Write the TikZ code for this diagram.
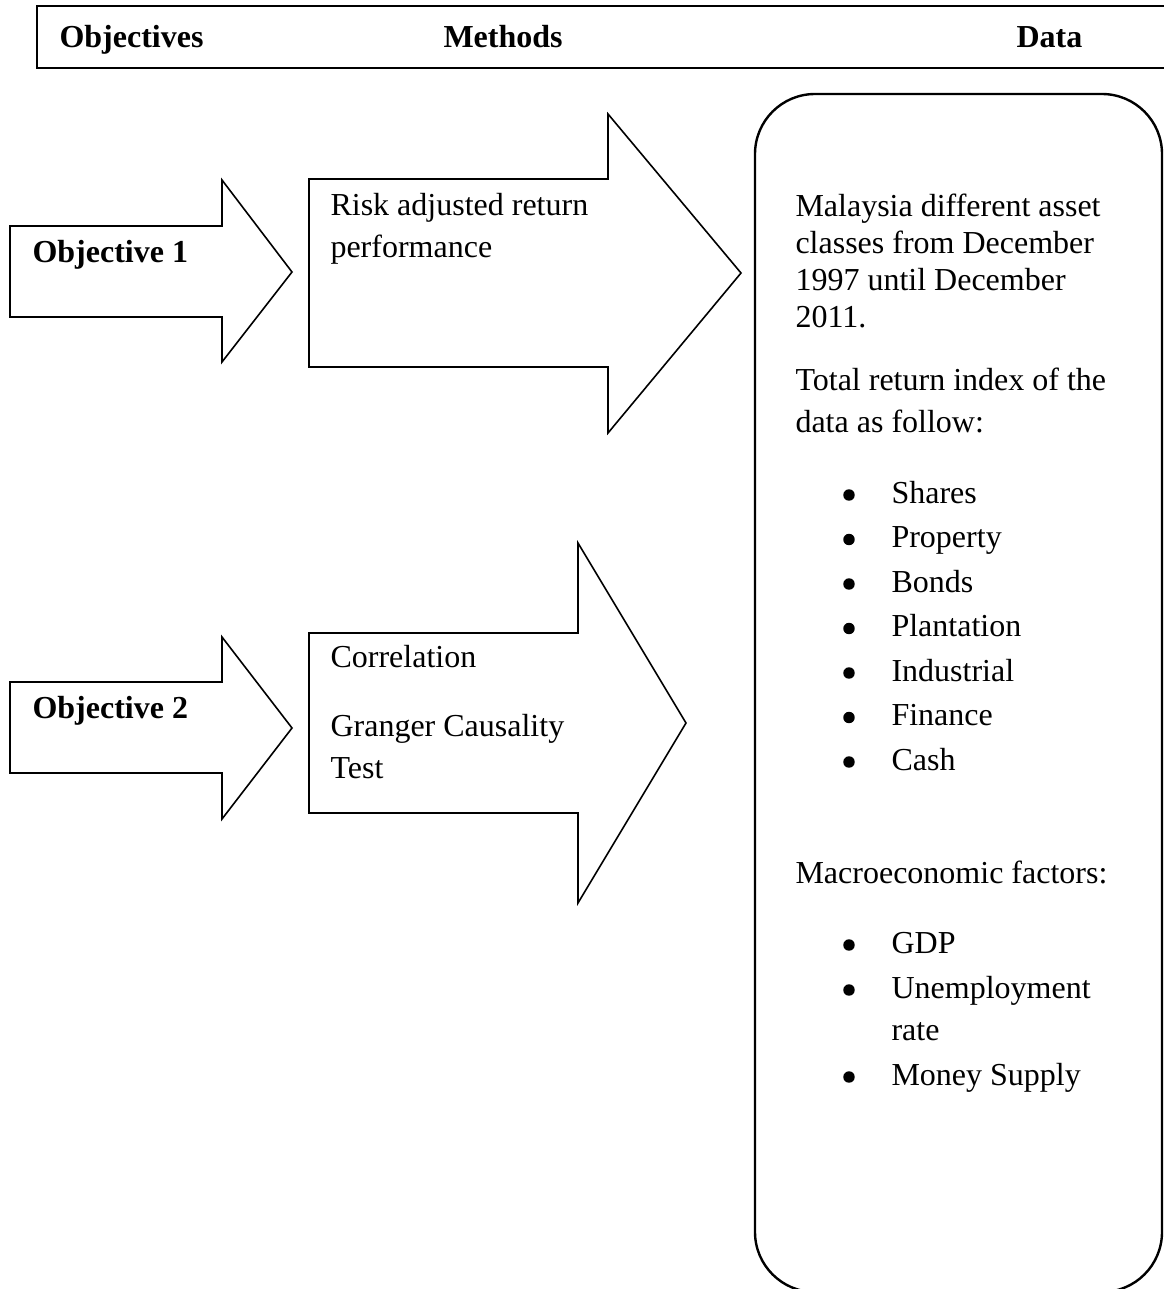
\documentclass[tikz,border=0pt]{standalone}
\usepackage{fontspec}
\setmainfont{Liberation Serif}
\tikzset{txt/.style={anchor=base west,inner sep=0pt,font=\fontsize{12}{14}\selectfont},head/.style={txt,font=\fontsize{12}{14}\selectfont\bfseries},blk/.style={draw,line width=0.6pt,line join=miter},frame/.style={draw,line width=0.9pt},dot/.style={circle,fill,inner sep=0pt,minimum size=4.3pt}}

\begin{document}
\begin{tikzpicture}[x=0.375pt,y=-0.375pt]
\useasboundingbox (0,0) rectangle (1163,1289);
% header bar
\draw[frame] (37,6) rectangle (1180,68);
\node[head] (obj) at (59,47) {Objectives};
\node[head] (meth) at (443,47) {Methods};
\node[head] (dat) at (1016,47) {Data};
% objective 1
\draw[blk] (10,226) -- (222,226) -- (222,180) -- (292,272) -- (222,362) -- (222,317) -- (10,317) -- cycle;
\node[head] (o1) at (32,262) {Objective 1};
\draw[blk] (309,179) -- (608,179) -- (608,114) -- (741,273) -- (608,433) -- (608,367) -- (309,367) -- cycle;
\node[txt] (m1a) at (330,215) {Risk adjusted return};
\node[txt] (m1b) at (330,257) {performance};
% objective 2
\draw[blk] (10,682) -- (222,682) -- (222,637) -- (292,728) -- (222,819) -- (222,773) -- (10,773) -- cycle;
\node[head] (o2) at (32,718) {Objective 2};
\draw[blk] (309,633) -- (578,633) -- (578,543) -- (686,723) -- (578,903) -- (578,813) -- (309,813) -- cycle;
\node[txt] (m2a) at (330,667) {Correlation};
\node[txt] (m2b) at (330,736) {Granger Causality};
\node[txt] (m2c) at (330,778) {Test};
% data box
\draw[frame,rounded corners=22.5pt] (755,94) rectangle (1162,1292);
\node[txt] (d1) at (795,216) {Malaysia different asset};
\node[txt] (d2) at (795,253) {classes from December};
\node[txt] (d3) at (795,290) {1997 until December};
\node[txt] (d4) at (795,327) {2011.};
\node[txt] (d5) at (795,390) {Total return index of the};
\node[txt] (d6) at (795,432) {data as follow:};
\foreach \asset [count=\i] in {Shares,Property,Bonds,Plantation,Industrial,Finance,Cash} {
  \node[txt] (a\i) at (891,{503+44.5*(\i-1)}) {\asset};
  \node[dot] (b\i) at (849,{495+44.5*(\i-1)}) {};
}
\node[txt] (mac) at (795,883) {Macroeconomic factors:};
\node[txt] (f1) at (891,953) {GDP};
\node[dot] (g1) at (849,945) {};
\node[txt] (f2) at (891,998) {Unemployment};
\node[dot] (g2) at (849,990) {};
\node[txt] (f2b) at (891,1040) {rate};
\node[txt] (f3) at (891,1085) {Money Supply};
\node[dot] (g3) at (849,1077) {};
\end{tikzpicture}
\end{document}
